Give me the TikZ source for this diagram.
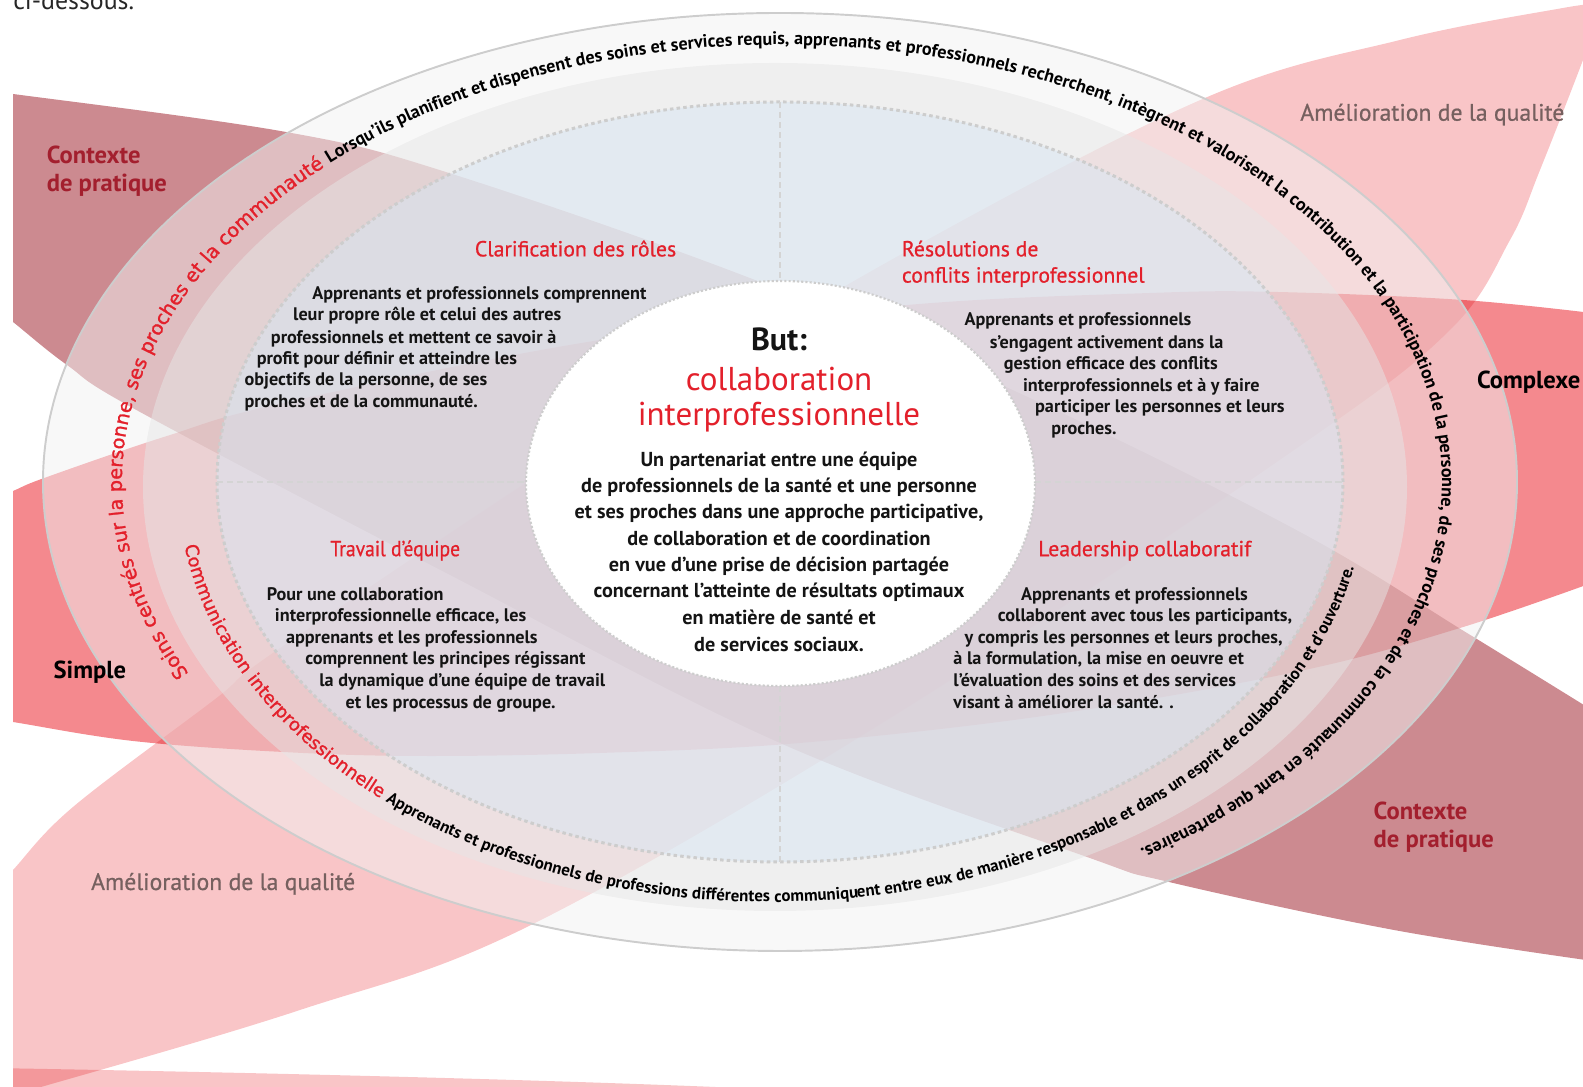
\documentclass[tikz,border=0pt]{standalone}
\usepackage{fontspec}
\setmainfont{PT Sans}
\newfontfamily\ptsans{PT Sans}
\newfontfamily\ptsemi{PT Sans}[FakeBold=0.7]
\newfontfamily\dejavub{DejaVu Sans}[FakeBold=1.3]
\usetikzlibrary{decorations.text}
\definecolor{rose}{HTML}{CC8A90}
\definecolor{salmon}{HTML}{F4898E}
\definecolor{pinkq}{HTML}{F9C5C7}
\definecolor{ired}{HTML}{E3202B}
\definecolor{ctxred}{HTML}{A31F2E}
\definecolor{amgray}{HTML}{76605F}
\definecolor{ringgray}{HTML}{CDCDCD}
\definecolor{bandA}{HTML}{F2F2F2}
\definecolor{bandB}{HTML}{E6E6E6}
\definecolor{bandC}{HTML}{D8E6F4}
\tikzset{
  body/.style={anchor=base west, inner sep=0pt, font=\ptsans\bfseries\fontsize{10.35}{12}\selectfont, text=black!92},
  ttl/.style={anchor=base west, inner sep=0pt, font=\ptsemi\fontsize{12.4}{14}\selectfont, text=ired},
  ctr/.style={anchor=base, inner sep=0pt, font=\ptsans\bfseries\fontsize{11.5}{13}\selectfont, text=black!92},
  lbl/.style={anchor=base west, inner sep=0pt, font=\ptsans\bfseries\fontsize{14}{16}\selectfont},
  bandfill/.style={blend mode=multiply},
  crossline/.style={draw=ringgray!85, line width=1.3pt, dash pattern=on 3.5pt off 2.2pt},
}
\begin{document}
\begin{tikzpicture}[x=0.02cm, y=0.02cm]
\useasboundingbox (0,0) rectangle (1583,1087);
% bands
\begin{scope}
\clip (13,0) rectangle (1583,1087);
\fill[rose, bandfill] plot[smooth, tension=0.6] coordinates {(-20,996) (13,993) (286,955) (449,914) (755,807) (1030,689) (1300,555) (1467,454) (1600,372)}
  -- plot[smooth, tension=0.6] coordinates {(1600,125) (1394,157) (1169,205) (1087,230) (780,344) (450,512) (140,675) (67,722) (13,765) (-20,791)} -- cycle;
\fill[salmon, bandfill] plot[smooth, tension=0.6] coordinates {(-20,582) (13,596) (47,610) (167,651) (283,684) (600,747) (907,782) (1150,794) (1277,795) (1463,787) (1600,773)}
  -- plot[smooth, tension=0.6] coordinates {(1600,507) (1460,459) (1300,416) (1050,372) (800,344) (600,334) (420,331) (283,335) (133,346) (13,365) (-20,370)} -- cycle;
\fill[pinkq, bandfill] plot[smooth, tension=0.6] coordinates {(-10,192) (13,217) (73,280) (214,387) (283,441) (600,652) (900,832) (1205,989) (1400,1047) (1563,1079) (1600,1083)}
  -- plot[smooth, tension=0.6] coordinates {(1600,1075) (1583,1027) (1540,917) (1510,847) (1450,757) (1300,641) (900,375) (531,162) (300,77) (41,0) (-10,-13)} -- cycle;
\fill[pinkq, bandfill] (-10,19) .. controls (400,12) and (700,2) .. (820,-5) -- (-10,-5) -- cycle;
\end{scope}
% ellipses
\fill[bandA, fill opacity=0.5] (780,605) ellipse [x radius=737, y radius=469];
\draw[ringgray, line width=1.1pt] (780,605) ellipse [x radius=737, y radius=469];
\fill[bandB, fill opacity=0.5] (775,600) ellipse [x radius=632, y radius=424];
\fill[bandC, fill opacity=0.5] (780,605) ellipse [x radius=563, y radius=380];
\draw[ringgray, line width=1.7pt, dash pattern=on 2pt off 1.8pt] (780,605) ellipse [x radius=563, y radius=380];
% cross lines
\coordinate (vt1) at (780,985);
\coordinate (vt2) at (780,806);
\coordinate (vb1) at (780,401);
\coordinate (vb2) at (780,225);
\coordinate (hl1) at (217,605);
\coordinate (hl2) at (526,605);
\coordinate (hr1) at (1035,605);
\coordinate (hr2) at (1343,605);
\draw[crossline] (vt1) -- (vt2);
\draw[crossline] (vb1) -- (vb2);
\draw[crossline] (hl1) -- (hl2);
\draw[crossline] (hr1) -- (hr2);
% centre
\fill[white] (780.5,603.5) ellipse [x radius=254.5, y radius=202.5];
\draw[ringgray, line width=1.2pt, dash pattern=on 1.2pt off 1.2pt] (780.5,603.5) ellipse [x radius=254.5, y radius=202.5];
% ring texts
\path[decorate, decoration={text along path, text align={left indent=0pt},
  text={|\dejavub\fontsize{11}{13}\selectfont\color{ired}|Soins centrés sur la personne, ses proches et la communauté |\ptsans\bfseries\fontsize{10.3}{12}\selectfont\color{black}|Lorsqu’ils planifient et dispensent des soins et services requis, apprenants et professionnels recherchent, intègrent et valorisent la contribution et la participation de la personne, de ses proches et de la communauté en tant que partenaires.}}]
  ({782+660*cos(206)},{605+437*sin(206)}) arc [start angle=206, end angle=-66, x radius=660, y radius=437];
\path[decorate, decoration={text along path, text align={left indent=0pt},
  text={|\dejavub\fontsize{10.3}{12}\selectfont\color{ired}|Communication interprofessionnelle |\ptsans\bfseries\fontsize{9.6}{11}\selectfont\color{black}|Apprenants et professionnels de professions différentes communiquent entre eux de manière responsable et dans un esprit de collaboration et d’ouverture.}}]
  ({772+594*cos(188.5)},{603+418*sin(188.5)}) arc [start angle=188.5, end angle=358, x radius=594, y radius=418];
% labels
\node[anchor=base west, inner sep=0pt, font=\ptsans\fontsize{14.7}{16}\selectfont, text=black!85] (cid) at (13,1077) {ci-dessous.};
\node[lbl, text=ctxred] (ctxl1) at (46.4,923.7) {Contexte};
\node[lbl, text=ctxred] (ctxl2) at (46.4,895.3) {de pratique};
\node[lbl, text=ctxred] (ctxr1) at (1373.3,267.6) {Contexte};
\node[lbl, text=ctxred] (ctxr2) at (1373.3,239) {de pratique};
\node[lbl, font=\ptsemi\fontsize{13.5}{16}\selectfont, text=amgray] (amtr) at (1300,966.3) {Amélioration de la qualité};
\node[lbl, font=\ptsemi\fontsize{13.5}{16}\selectfont, text=amgray] (ambl) at (90.8,197) {Amélioration de la qualité};
\node[lbl, text=black] (cpx) at (1476.7,698.2) {Complexe};
\node[lbl, text=black] (smp) at (53.3,408) {Simple};
% quadrant titles
\node[ttl] (t1) at (474.5,830.6) {Clarification des rôles};
\node[ttl] (t2a) at (901.6,830.6) {Résolutions de};
\node[ttl] (t2b) at (901.6,804.4) {conflits interprofessionnel};
\node[ttl] (t3) at (330.1,530.8) {\scalebox{0.9}[1]{Travail d’équipe}};
\node[ttl] (t4) at (1037.9,530.8) {Leadership collaboratif};
% quadrant bodies
\node[body] (a1) at (312,787.2) {Apprenants et professionnels comprennent};
\node[body] (a2) at (292.8,766) {leur propre rôle et celui des autres};
\node[body] (a3) at (270.6,743.8) {professionnels et mettent ce savoir à};
\node[body] (a4) at (256.4,722.6) {profit pour définir et atteindre les};
\node[body] (a5) at (244.3,701.4) {objectifs de la personne, de ses};
\node[body] (a6) at (244.3,679.2) {proches et de la communauté.};
\node[body] (b1) at (964.2,761) {Apprenants et professionnels};
\node[body] (b2) at (989.4,738.7) {s’engagent activement dans la};
\node[body] (b3) at (1003.5,717.5) {gestion efficace des conflits};
\node[body] (b4) at (1022.7,695.3) {interprofessionnels et à y faire};
\node[body] (b5) at (1034.8,674.1) {participer les personnes et leurs};
\node[body] (b6) at (1051,652.9) {proches.};
\node[body] (c1) at (266.5,486.3) {Pour une collaboration};
\node[body] (c2) at (274.6,465.1) {interprofessionnelle efficace, les};
\node[body] (c3) at (285.7,443.9) {apprenants et les professionnels};
\node[body] (c4) at (304.9,422.7) {comprennent les principes régissant};
\node[body] (c5) at (319,400.5) {la dynamique d’une équipe de travail};
\node[body] (c6) at (345.3,378.3) {et les processus de groupe.};
\node[body] (d1) at (1020.7,486.3) {Apprenants et professionnels};
\node[body] (d2) at (997.5,465.1) {collaborent avec tous les participants,};
\node[body] (d3) at (964.2,443.9) {y compris les personnes et leurs proches,};
\node[body] (d4) at (953.1,422.7) {à la formulation, la mise en oeuvre et};
\node[body] (d5) at (953.1,400.5) {l’évaluation des soins et des services};
\node[body] (d6) at (953.1,378.3) {visant à améliorer la santé. .};
% centre text
\node[ctr, font=\ptsans\bfseries\fontsize{18.2}{20}\selectfont] (but) at (779,736) {But:};
\node[ctr, font=\ptsans\fontsize{18.8}{20}\selectfont, text=ired] (col1) at (779,696.4) {collaboration};
\node[ctr, font=\ptsans\fontsize{18.8}{20}\selectfont, text=ired] (col2) at (779,661) {interprofessionnelle};
\node[ctr] (e1) at (779,620.6) {Un partenariat entre une équipe};
\node[ctr] (e2) at (779,594.4) {de professionnels de la santé et une personne};
\node[ctr] (e3) at (779,568.1) {et ses proches dans une approche participative,};
\node[ctr] (e4) at (779,541.9) {de collaboration et de coordination};
\node[ctr] (e5) at (779,515.6) {en vue d’une prise de décision partagée};
\node[ctr] (e6) at (779,489.4) {concernant l’atteinte de résultats optimaux};
\node[ctr] (e7) at (779,462.1) {en matière de santé et};
\node[ctr] (e8) at (779,435.9) {de services sociaux.};
\end{tikzpicture}
\end{document}
